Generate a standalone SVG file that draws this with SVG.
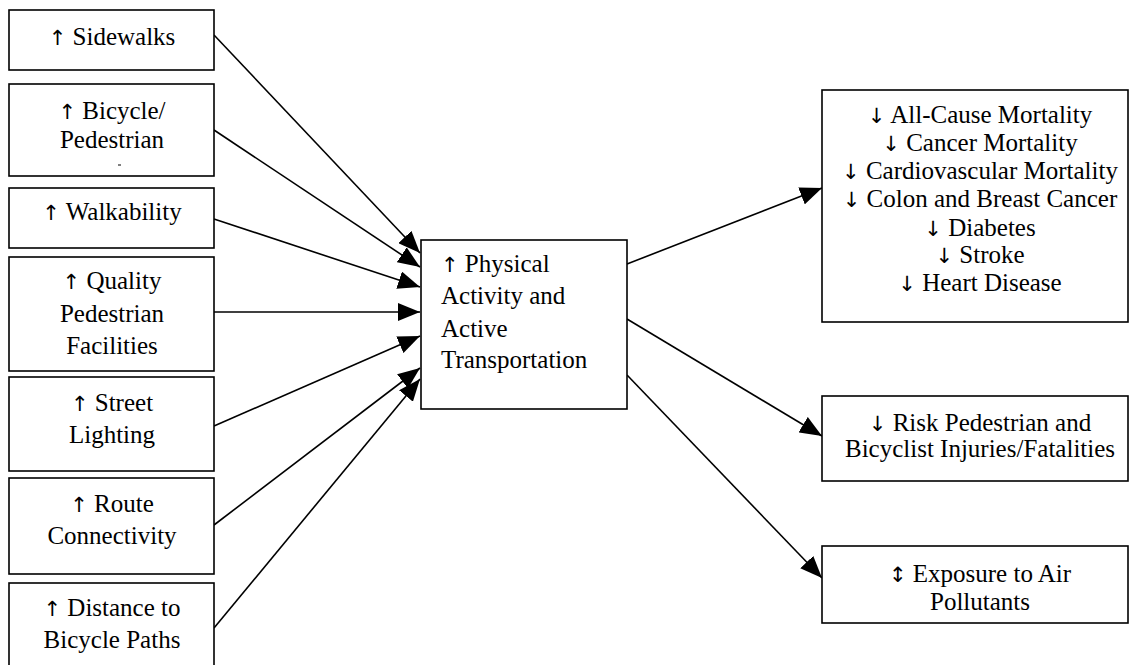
<svg xmlns="http://www.w3.org/2000/svg" width="1129" height="665" viewBox="0 0 1129 665">
<style>
.box{fill:#fff;stroke:#000;stroke-width:1.6}
.t{font-family:"Liberation Serif","DejaVu Serif",serif;font-size:25px;fill:#000}
.a{font-family:"DejaVu Sans",sans-serif;font-size:21px}
.c{text-anchor:middle}
.ln{stroke:#000;stroke-width:1.6;fill:none;marker-end:url(#ah)}
</style>
<defs>
<marker id="ah" markerUnits="userSpaceOnUse" markerWidth="24" markerHeight="18" refX="22" refY="9" orient="auto">
<path d="M0,0 L22,9 L0,18 Z" fill="#000"/>
</marker>
</defs>
<rect width="1129" height="665" fill="#fff"/>
<g id="connectors">
<line class="ln" x1="214" y1="35" x2="420" y2="253"/>
<line class="ln" x1="214" y1="130" x2="420" y2="267"/>
<line class="ln" x1="214" y1="219" x2="420" y2="287"/>
<line class="ln" x1="214" y1="312" x2="420" y2="312"/>
<line class="ln" x1="214" y1="426" x2="420" y2="336"/>
<line class="ln" x1="214" y1="525" x2="420" y2="368"/>
<line class="ln" x1="214" y1="628" x2="420" y2="379"/>
<line class="ln" x1="627" y1="264" x2="822" y2="188"/>
<line class="ln" x1="627" y1="319" x2="822" y2="436"/>
<line class="ln" x1="627" y1="375" x2="822" y2="578"/>
</g>
<g id="sidewalks">
<rect class="box" x="9" y="10" width="205" height="60"/>
<text class="t c" x="112" y="45"><tspan class="a">↑</tspan> Sidewalks</text>
</g>
<g id="bicycle-pedestrian">
<rect class="box" x="9" y="84" width="205" height="92"/>
<text class="t c" x="112" y="119"><tspan class="a">↑</tspan> Bicycle/</text>
<text class="t c" x="112" y="148">Pedestrian</text>
<line x1="118" y1="165" x2="121" y2="165" stroke="#000" stroke-width="1"/>
</g>
<g id="walkability">
<rect class="box" x="9" y="188" width="205" height="60"/>
<text class="t c" x="112" y="220"><tspan class="a">↑</tspan> Walkability</text>
</g>
<g id="quality">
<rect class="box" x="9" y="257" width="205" height="114"/>
<text class="t c" x="112" y="289"><tspan class="a">↑</tspan> Quality</text>
<text class="t c" x="112" y="322">Pedestrian</text>
<text class="t c" x="112" y="354">Facilities</text>
</g>
<g id="street">
<rect class="box" x="9" y="377" width="205" height="94"/>
<text class="t c" x="112" y="411"><tspan class="a">↑</tspan> Street</text>
<text class="t c" x="112" y="443">Lighting</text>
</g>
<g id="route">
<rect class="box" x="9" y="478" width="205" height="96"/>
<text class="t c" x="112" y="512"><tspan class="a">↑</tspan> Route</text>
<text class="t c" x="112" y="544">Connectivity</text>
</g>
<g id="distance">
<rect class="box" x="9" y="583" width="205" height="92"/>
<text class="t c" x="112" y="616"><tspan class="a">↑</tspan> Distance to</text>
<text class="t c" x="112" y="648">Bicycle Paths</text>
</g>
<g id="physical-activity">
<rect class="box" x="421" y="240" width="206" height="169"/>
<text class="t" x="441" y="272"><tspan class="a">↑</tspan> Physical</text>
<text class="t" x="441" y="304">Activity and</text>
<text class="t" x="441" y="337">Active</text>
<text class="t" x="441" y="368">Transportation</text>
</g>
<g id="mortality">
<rect class="box" x="822" y="90" width="306" height="232"/>
<text class="t c" x="980" y="123"><tspan class="a">↓</tspan> All-Cause Mortality</text>
<text class="t c" x="980" y="151"><tspan class="a">↓</tspan> Cancer Mortality</text>
<text class="t c" x="980" y="179"><tspan class="a">↓</tspan> Cardiovascular Mortality</text>
<text class="t c" x="980" y="207"><tspan class="a">↓</tspan> Colon and Breast Cancer</text>
<text class="t c" x="980" y="236"><tspan class="a">↓</tspan> Diabetes</text>
<text class="t c" x="980" y="263"><tspan class="a">↓</tspan> Stroke</text>
<text class="t c" x="980" y="291"><tspan class="a">↓</tspan> Heart Disease</text>
</g>
<g id="injuries">
<rect class="box" x="822" y="396" width="306" height="85"/>
<text class="t c" x="980" y="431"><tspan class="a">↓</tspan> Risk Pedestrian and</text>
<text class="t c" x="980" y="457">Bicyclist Injuries/Fatalities</text>
</g>
<g id="air">
<rect class="box" x="822" y="546" width="306" height="77"/>
<text class="t c" x="980" y="582"><tspan class="a">↕</tspan> Exposure to Air</text>
<text class="t c" x="980" y="610">Pollutants</text>
</g>
</svg>
